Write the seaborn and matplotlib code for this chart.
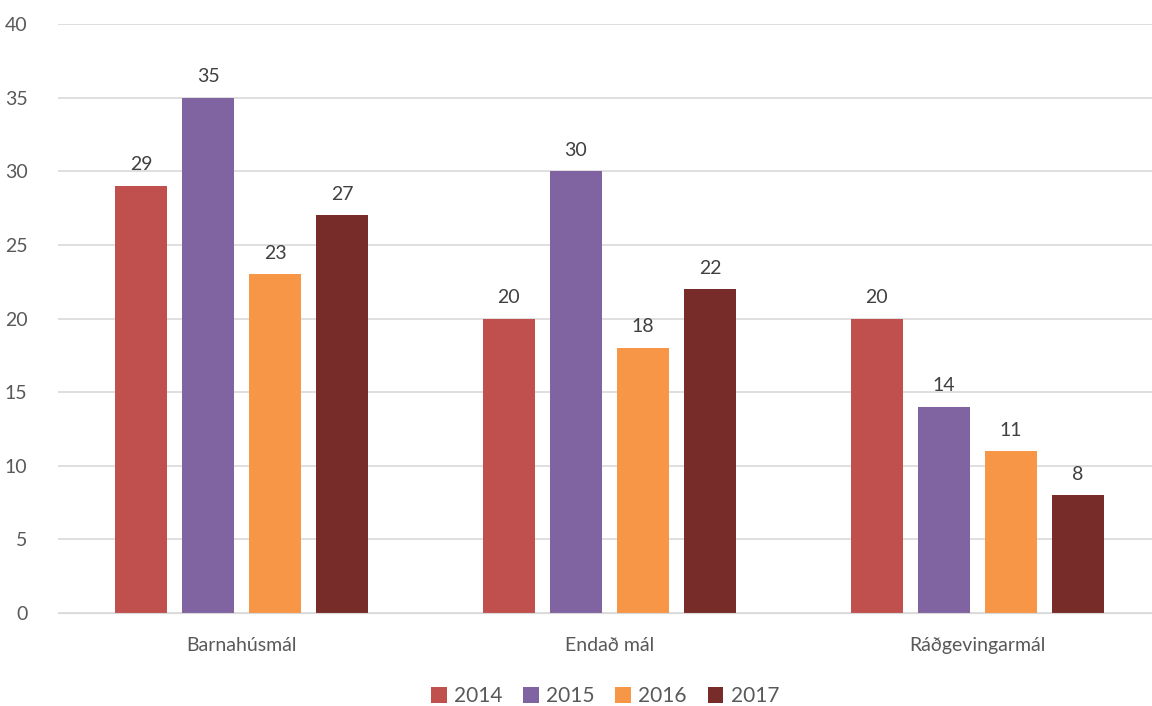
import pandas as pd
import matplotlib.pyplot as plt
import seaborn as sns

categories = ['Barnahúsmál', 'Endað mál', 'Ráðgevingarmál']
years = ['2014', '2015', '2016', '2017']
values_2014 = [29, 20, 20]
values_2015 = [35, 30, 14]
values_2016 = [23, 18, 11]
values_2017 = [27, 22, 8]

colors = ['#C0504D', '#8064A2', '#F79646', '#772C2A']

rows = []
for year, vals in zip(years, [values_2014, values_2015, values_2016, values_2017]):
    for cat, v in zip(categories, vals):
        rows.append({'cat': cat, 'year': year, 'value': v})
df = pd.DataFrame(rows)

sns.set_style('white')
plt.rcParams['font.family'] = ['Lato', 'DejaVu Sans']

fig = plt.figure(figsize=(11.52, 7.06), dpi=100)
ax = fig.add_axes([58 / 1152, 1 - 613 / 706, 1 - 58 / 1152, (613 - 24) / 706])

sns.barplot(data=df, x='cat', y='value', hue='year', palette=colors,
            width=0.729, gap=0.224, saturation=1, linewidth=0, ax=ax, legend=True)

for cont in ax.containers:
    ax.bar_label(cont, padding=9, fontsize=14, color='#404040')

ax.set_ylim(0, 40)
ax.set_yticks(range(0, 41, 5))
ax.set_xlim(-0.5, 2.476)
ax.yaxis.grid(True, color='#D9D9D9', linewidth=1.2)
ax.set_axisbelow(True)
for s in ax.spines.values():
    s.set_visible(False)
ax.spines['bottom'].set_visible(True)
ax.spines['bottom'].set_color('#D9D9D9')
ax.tick_params(axis='both', length=0, labelsize=14, colors='#595959')
ax.tick_params(axis='x', pad=17)
ax.tick_params(axis='y', pad=22)
ax.set_xlabel('')
ax.set_ylabel('')

ax.legend(loc='lower center', bbox_to_anchor=(0.5, -0.19), ncol=4,
          frameon=False, fontsize=15, handlelength=0.75, handleheight=0.75,
          handletextpad=0.35, columnspacing=1.0, labelcolor='#595959')

fig.savefig('out.png', dpi=100)
